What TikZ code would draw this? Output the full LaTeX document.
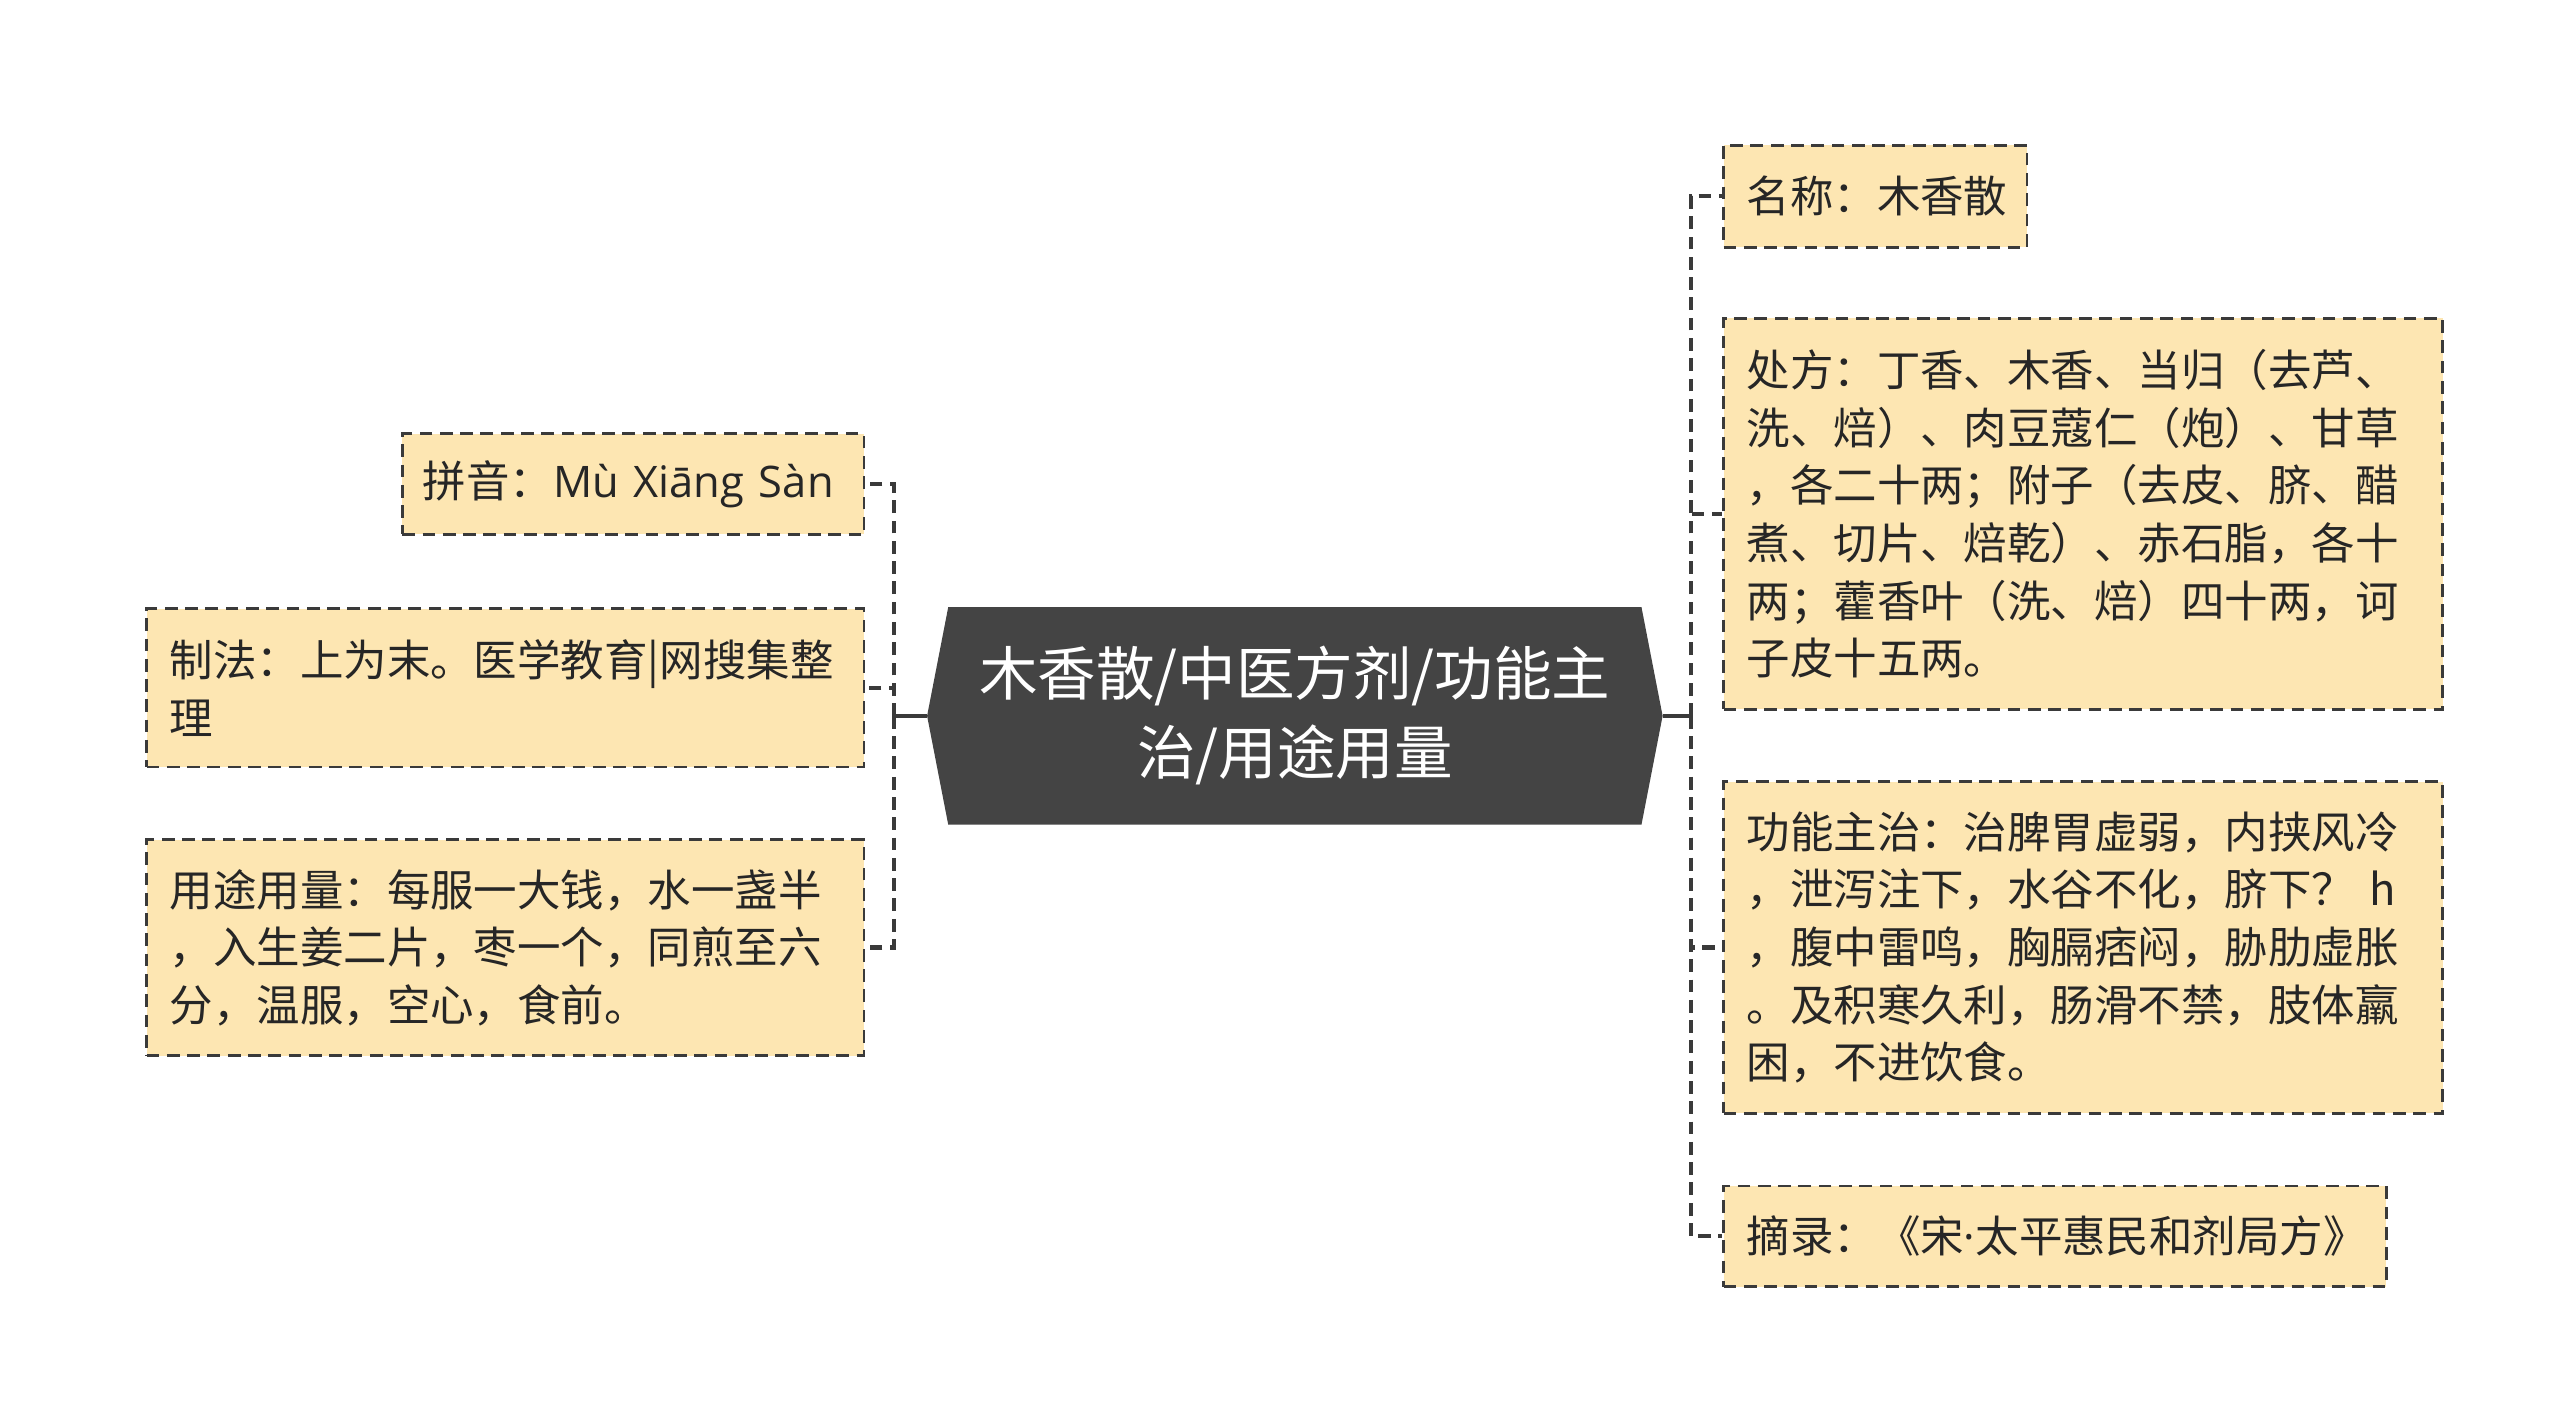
\documentclass[tikz,border=0pt]{standalone}
\usepackage{fontspec}
\setmainfont{Noto Sans CJK SC}
\newfontfamily\latinfont{Open Sans}
\usepackage{tikz}
\usetikzlibrary{shapes.symbols}
\definecolor{leaf-yellow}{HTML}{FDE6B2}
\definecolor{root-grey}{HTML}{444444}
\definecolor{line-grey}{HTML}{3A3A3A}

\begin{document}
\begin{tikzpicture}[x=0.02cm, y=-0.02cm,
		leaf/.style={draw=line-grey, dash pattern=on 4.4pt off 2.6pt, line width=1pt, fill=leaf-yellow, text=black!85, font=\fontsize{15}{19.9}\selectfont, align=left, inner xsep=0.28cm, inner ysep=0pt},
		link/.style={draw=line-grey, dash pattern=on 4.4pt off 2.6pt, line width=1.5pt},
		stem/.style={draw=line-grey, line width=1.5pt}]
		\useasboundingbox (0,0) rectangle (1552,860.3);
		
		% Draw the central topic
		\node (root) [signal, signal to=west and east, signal pointer angle=158, fill=root-grey, text=white, minimum width=8.92cm, minimum height=2.64cm, inner sep=0pt, align=center, font=\fontsize{20.2}{27.3}\selectfont] at (785,434) {木香散/中医方剂/功能主\\治/用途用量};
		
		% Draw the right branches
		\node (name) [leaf, anchor=west, text width=3.12cm, minimum height=1.24cm] at (1044,119) {名称：木香散};
		\node (recipe) [leaf, anchor=west, text width=8.16cm, minimum height=4.74cm] at (1044,311.5) {处方：丁香、木香、当归（去芦、\\洗、焙）、肉豆蔻仁（炮）、甘草\\，各二十两；附子（去皮、脐、醋\\煮、切片、焙乾）、赤石脂，各十\\两；藿香叶（洗、焙）四十两，诃\\子皮十五两。};
		\node (effect) [leaf, anchor=west, text width=8.16cm, minimum height=4.02cm] at (1044,574.5) {功能主治：治脾胃虚弱，内挟风冷\\，泄泻注下，水谷不化，脐下？ h\\，腹中雷鸣，胸膈痞闷，胁肋虚胀\\。及积寒久利，肠滑不禁，肢体羸\\困，不进饮食。};
		\node (source) [leaf, anchor=west, text width=7.48cm, minimum height=1.22cm] at (1044,749.5) {摘录：《宋{\latinfont ·}太平惠民和剂局方》};
		
		% Draw the left branches
		\node (pinyin) [leaf, anchor=west, inner xsep=0.25cm, text width=5.1cm, minimum height=1.22cm] at (243,293.5) {拼音：{\latinfont Mù Xiāng Sàn}};
		\node (method) [leaf, anchor=west, text width=8.14cm, minimum height=1.92cm] at (88,417) {制法：上为末。医学教育|网搜集整\\理};
		\node (usage) [leaf, anchor=west, text width=8.14cm, minimum height=2.62cm] at (88,574.5) {用途用量：每服一大钱，水一盏半\\，入生姜二片，枣一个，同煎至六\\分，温服，空心，食前。};
		
		% Junctions of the two trunks
		\coordinate (rj) at (1025,434);
		\coordinate (lj) at (542,434);
		
		% Connect the topic with the branches
		\draw[stem] (root.east) -- (rj);
		\draw[stem] (root.west) -- (lj);
		\draw[link] (rj) |- (name.west);
		\draw[link] (rj) |- (recipe.west);
		\draw[link] (rj) |- (effect.west);
		\draw[link] (rj) |- (source.west);
		\draw[link] (lj) |- (pinyin.east);
		\draw[link] (lj) |- (method.east);
		\draw[link] (lj) |- (usage.east);
\end{tikzpicture}
\end{document}
